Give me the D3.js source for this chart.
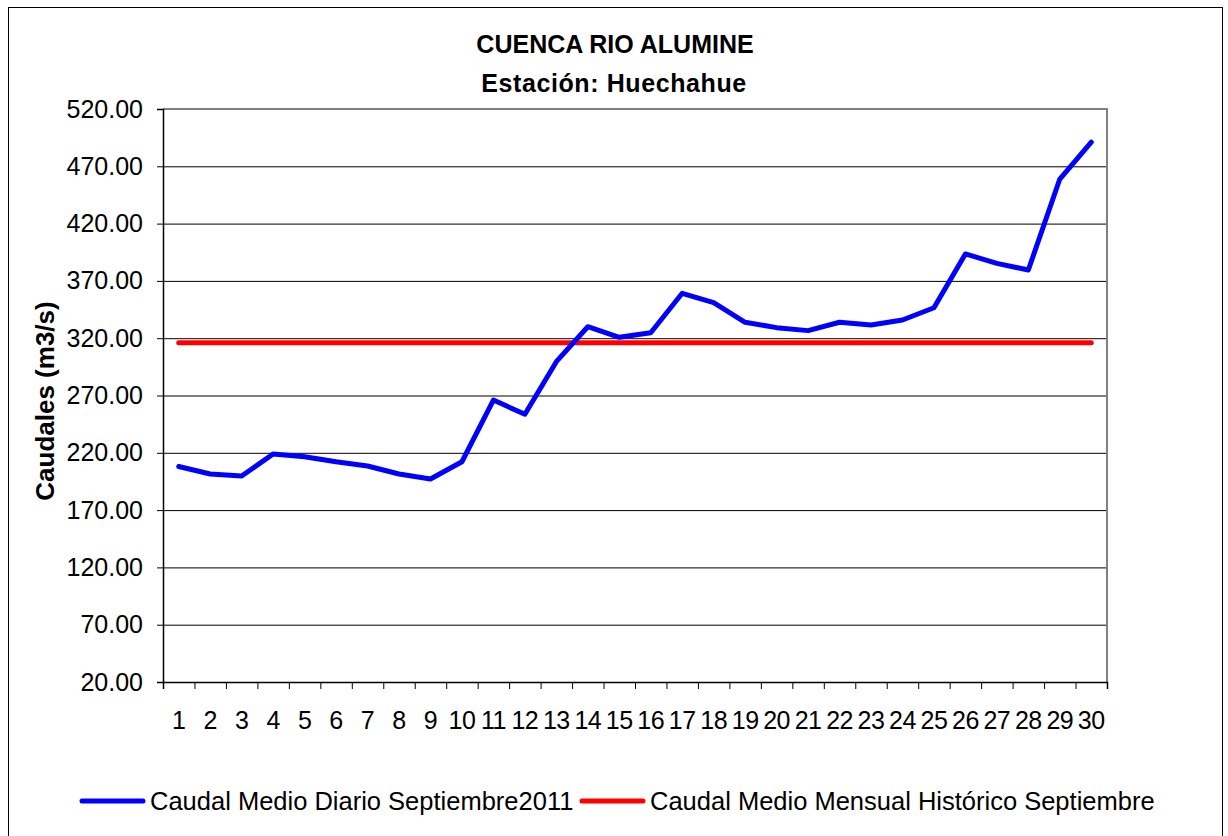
<!DOCTYPE html>
<html>
<head>
<meta charset="utf-8">
<script src="https://cdn.jsdelivr.net/npm/d3@7"></script>
<style>
  body { margin: 0; background: #fff; }
  svg text { font-family: "Liberation Sans", Arial, sans-serif; fill: #000; }
</style>
</head>
<body>
<svg id="chart" width="1228" height="836"></svg>
<script>
// Datos
const dias = [1, 2, 3, 4, 5, 6, 7, 8, 9, 10, 11, 12, 13, 14, 15, 16, 17, 18, 19, 20, 21, 22, 23, 24, 25, 26, 27, 28, 29, 30];
const caudalDiario = [208, 201.5, 199.8, 219, 216.6, 212.2, 208.5, 201.5, 197.1, 212.2,
    266, 253.6, 299.5, 330, 320.8, 324.8, 359.2, 351, 333.9, 329.2,
    326.6, 333.9, 331.5, 335.9, 346.6, 393.5, 385.3, 379.5, 458.9, 491];
const caudalHistorico = dias.map(() => 316);
const yTicks = [20, 70, 120, 170, 220, 270, 320, 370, 420, 470, 520];

const titulo = ['CUENCA RIO ALUMINE', 'Estación: Huechahue'];
const etiquetaY = 'Caudales (m3/s)';
const leyenda = [
    { nombre: 'Caudal Medio Diario Septiembre2011', color: '#0000ff', datos: caudalDiario },
    { nombre: 'Caudal Medio Mensual Histórico Septiembre', color: '#ff0000', datos: caudalHistorico }
];

const svg = d3.select('#chart');
const plot = { left: 163, right: 1107, top: 109, bottom: 682 };

// borde exterior
svg.append('rect')
    .attr('x', 8.5).attr('y', 7.5)
    .attr('width', 1214).attr('height', 840)
    .attr('fill', '#fff').attr('stroke', '#000').attr('stroke-width', 1);

const x = d3.scaleBand().domain(dias).range([plot.left, plot.right]).padding(0);
const xEdge = d3.scaleLinear().domain([0, dias.length]).range([plot.left, plot.right]);
const y = d3.scaleLinear().domain([20, 520]).range([plot.bottom, plot.top]);

// líneas de cuadrícula
svg.append('g')
    .attr('transform', `translate(${plot.left},0)`)
    .call(d3.axisLeft(y).tickValues(yTicks.slice(1, -1)).tickSize(-(plot.right - plot.left)).tickFormat(''))
    .call(g => g.select('.domain').remove())
    .selectAll('line').attr('stroke', '#000').attr('stroke-width', 1);

// borde del área de trazado (arriba y derecha)
svg.append('path')
    .attr('d', `M${plot.left},${plot.top}H${plot.right}V${plot.bottom}`)
    .attr('fill', 'none').attr('stroke', '#808080').attr('stroke-width', 2);

// eje Y
const gy = svg.append('g')
    .attr('transform', `translate(${plot.left},0)`)
    .call(d3.axisLeft(y).tickValues(yTicks).tickSize(6).tickPadding(14).tickFormat(d3.format('.2f')));
gy.select('.domain').attr('stroke', '#000').attr('stroke-width', 1.5);
gy.selectAll('line').attr('stroke', '#000');
gy.selectAll('text').attr('font-size', 25).attr('fill', '#000');

// eje X: marcas entre categorías
const gxTicks = svg.append('g')
    .attr('transform', `translate(0,${plot.bottom})`)
    .call(d3.axisBottom(xEdge).tickValues(d3.range(0, dias.length + 1)).tickSize(7).tickFormat(''));
gxTicks.select('.domain').attr('stroke', '#000').attr('stroke-width', 1.5);
gxTicks.selectAll('line').attr('stroke', '#000');

// eje X: etiquetas centradas
const gx = svg.append('g')
    .attr('transform', `translate(0,${plot.bottom})`)
    .call(d3.axisBottom(x).tickSize(0).tickPadding(29));
gx.select('.domain').remove();
gx.selectAll('text').attr('font-size', 25).attr('fill', '#000').attr('letter-spacing', -0.5);

// series
const line = d3.line()
    .x((d, i) => x(dias[i]) + x.bandwidth() / 2)
    .y(d => y(d));

leyenda.slice().reverse().forEach(s => {
    svg.append('path')
        .datum(s.datos)
        .attr('d', line)
        .attr('fill', 'none')
        .attr('stroke', s.color)
        .attr('stroke-width', 5)
        .attr('stroke-linejoin', 'round')
        .attr('stroke-linecap', 'round');
});

// título
svg.append('text')
    .attr('x', 615).attr('y', 53)
    .attr('text-anchor', 'middle')
    .attr('font-size', 25).attr('font-weight', 'bold')
    .text(titulo[0]);
svg.append('text')
    .attr('x', 614).attr('y', 92)
    .attr('text-anchor', 'middle')
    .attr('font-size', 25).attr('font-weight', 'bold')
    .attr('letter-spacing', 0.6)
    .text(titulo[1]);

// etiqueta eje Y
svg.append('text')
    .attr('transform', 'translate(54,401) rotate(-90)')
    .attr('text-anchor', 'middle')
    .attr('font-size', 26).attr('font-weight', 'bold')
    .text(etiquetaY);

// leyenda
const legX = [82, 582];
leyenda.forEach((s, i) => {
    const g = svg.append('g').attr('transform', `translate(${legX[i]},801)`);
    g.append('line')
        .attr('x1', 0).attr('x2', 61)
        .attr('stroke', s.color).attr('stroke-width', 5).attr('stroke-linecap', 'round');
    g.append('text')
        .attr('x', 68).attr('y', 9)
        .attr('font-size', 25.5)
        .text(s.nombre);
});
</script>
</body>
</html>
